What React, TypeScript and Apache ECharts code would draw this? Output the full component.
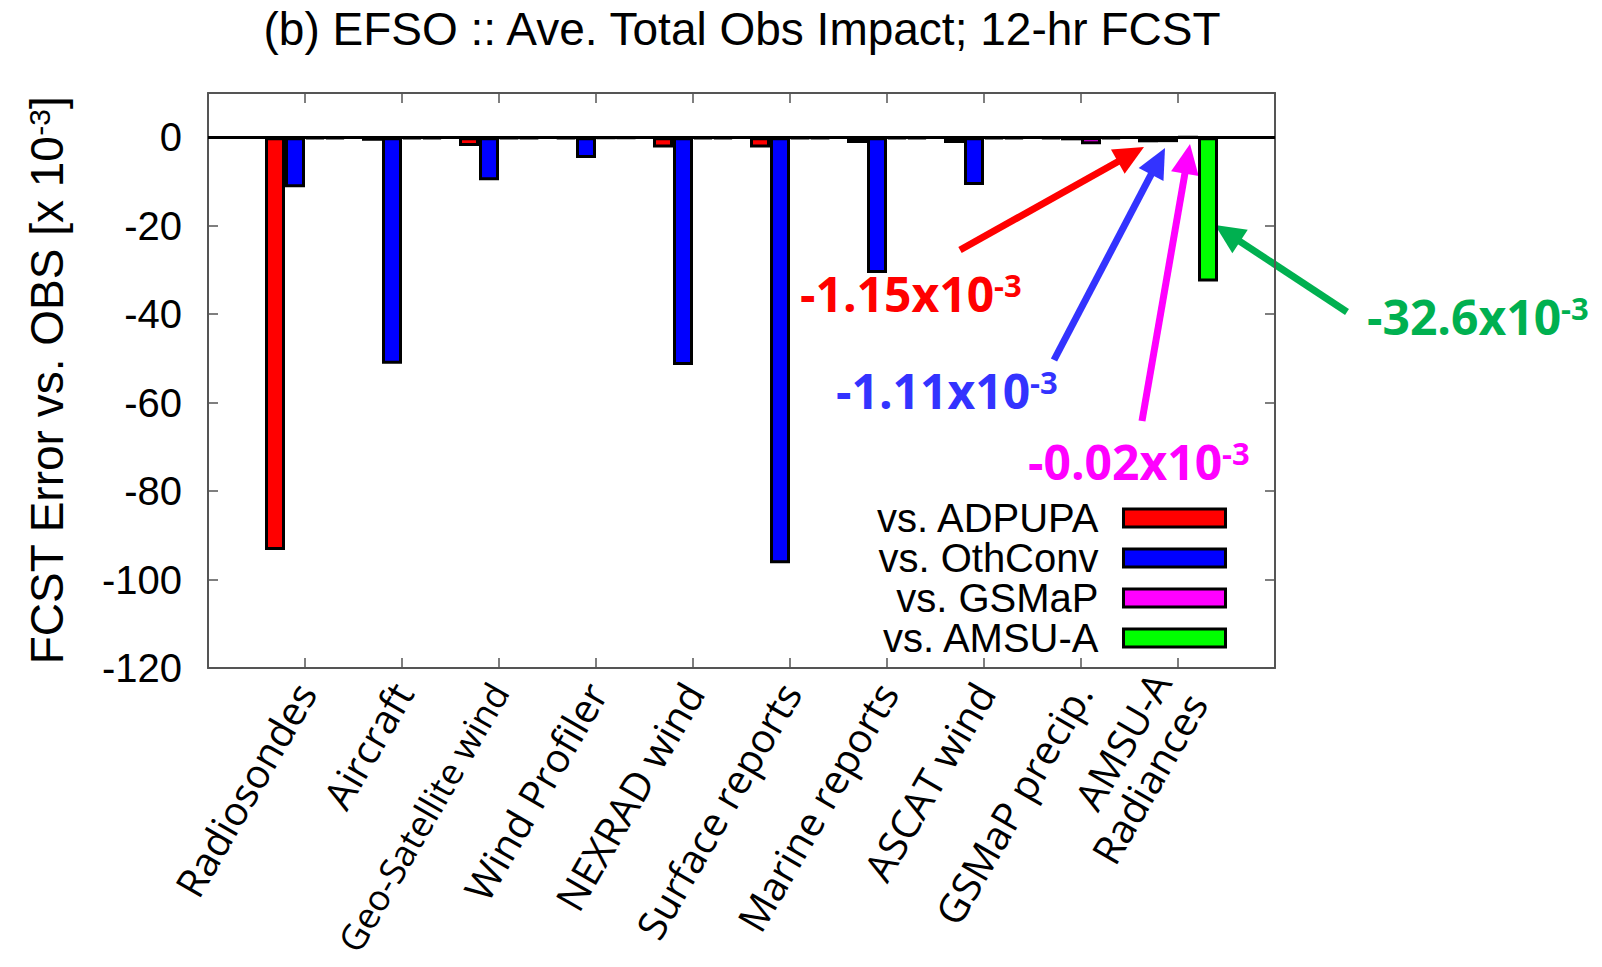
import React, { useEffect, useRef } from 'react';
import * as echarts from 'echarts';

const categories = [
  'Radiosondes',
  'Aircraft',
  'Geo-Satellite wind',
  'Wind Profiler',
  'NEXRAD wind',
  'Surface reports',
  'Marine reports',
  'ASCAT wind',
  'GSMaP precip.',
  'AMSU-A\nRadiances',
];
const seriesNames = ['vs. ADPUPA', 'vs. OthConv', 'vs. GSMaP', 'vs. AMSU-A'];
const seriesColors = ['#ff0000', '#0000ff', '#ff00ff', '#00ff00'];
const adpupa = [-93.3, -0.8, -2.0, -0.3, -2.3, -2.3, -1.3, -1.3, -0.4, -1.15];
const othconv = [-11.3, -51.2, -9.7, -4.7, -51.5, -96.3, -30.7, -10.8, -0.7, -1.11];
const gsmap = [-0.4, -0.4, -0.3, -0.2, -0.4, -0.3, -0.4, -0.4, -1.6, -0.02];
const amsua = [-0.4, -0.4, -0.3, -0.2, -0.4, -0.3, -0.4, -0.4, -0.4, -32.6];
const yMin = -120;
const yMax = 10;
const yInterval = 20;
const longLabels = ['Geo-Satellite wind'];

const annotations = [
  { main: '-1.15x10', sup: '-3', color: '#ff0000', x: 800, y: 269 },
  { main: '-1.11x10', sup: '-3', color: '#3333ff', x: 836, y: 366 },
  { main: '-0.02x10', sup: '-3', color: '#ff00ff', x: 1028, y: 437 },
  { main: '-32.6x10', sup: '-3', color: '#00b050', x: 1367, y: 292 },
];
const arrows = [
  { from: [960, 250], to: [1144, 147], color: '#ff0000' },
  { from: [1054, 360], to: [1165, 148], color: '#3333ff' },
  { from: [1142, 421], to: [1190, 144], color: '#ff00ff' },
  { from: [1347, 312], to: [1215, 225], color: '#00b050' },
];

const axisColor = '#555';
const padCats = ['', ...categories, ''];
const pad = (arr: number[]) => ['-', ...arr, '-'];

function arrowElements(a: { from: number[]; to: number[]; color: string }) {
  const [x1, y1] = a.from;
  const [x2, y2] = a.to;
  const dx = x2 - x1;
  const dy = y2 - y1;
  const L = Math.hypot(dx, dy);
  const ux = dx / L;
  const uy = dy / L;
  const px = -uy;
  const py = ux;
  const headLen = 30;
  const headW = 28;
  const bx = x2 - ux * headLen;
  const by = y2 - uy * headLen;
  return [
    {
      type: 'line',
      shape: { x1, y1, x2: bx + ux * 3, y2: by + uy * 3 },
      style: { stroke: a.color, lineWidth: 7 },
      silent: true,
    },
    {
      type: 'polygon',
      shape: {
        points: [
          [x2, y2],
          [bx + (px * headW) / 2, by + (py * headW) / 2],
          [bx - (px * headW) / 2, by - (py * headW) / 2],
        ],
      },
      style: { fill: a.color },
      silent: true,
    },
  ];
}

export default function App() {
  const ref = useRef<HTMLDivElement>(null);
  useEffect(() => {
    if (!ref.current) return;
    const chart = echarts.init(ref.current, null, { renderer: 'svg' });
    const dataSets = [adpupa, othconv, gsmap, amsua];
    const tickInterval = (index: number) => index > 0 && index < padCats.length - 1;

    const series: any[] = dataSets.map((d, i) => ({
      name: seriesNames[i],
      type: 'bar',
      data: pad(d),
      barWidth: 20,
      barGap: '0%',
      itemStyle: { color: seriesColors[i], borderColor: '#000', borderWidth: 3 },
      emphasis: { disabled: true },
      ...(i === 0
        ? {
            markLine: {
              silent: true,
              symbol: ['none', 'none'],
              label: { show: false },
              lineStyle: { color: '#000', width: 3, type: 'solid' },
              data: [{ yAxis: 0 }],
            },
          }
        : {}),
    }));

    const graphicElements: any[] = [];
    arrows.forEach((a) => graphicElements.push(...arrowElements(a)));
    annotations.forEach((t) =>
      graphicElements.push({
        type: 'text',
        x: t.x,
        y: t.y,
        silent: true,
        style: {
          text: `{a|${t.main}}{b|${t.sup}}`,
          fill: t.color,
          verticalAlign: 'top',
          align: 'left',
          rich: {
            a: { fontSize: 48, fontWeight: 'bold', fontFamily: 'Open Sans', lineHeight: 48, fill: t.color },
            b: {
              fontSize: 31,
              fontWeight: 'bold',
              fontFamily: 'Open Sans',
              lineHeight: 28,
              verticalAlign: 'top',
              fill: t.color,
            },
          },
        },
      })
    );

    chart.setOption({
      animation: false,
      backgroundColor: '#fff',
      title: {
        text: '(b) EFSO :: Ave. Total Obs Impact; 12-hr FCST',
        left: 742,
        top: 6,
        textAlign: 'center',
        padding: 0,
        textStyle: { fontSize: 46, fontWeight: 'normal', fontFamily: 'Liberation Sans', color: '#000' },
      },
      grid: { left: 208, right: 327, top: 93, bottom: 299, containLabel: false, outerBoundsMode: 'none' },
      legend: {
        data: seriesNames,
        orient: 'vertical',
        right: 375,
        top: 498,
        align: 'right',
        icon: 'rect',
        itemWidth: 102,
        itemHeight: 18,
        itemGap: 0,
        padding: 0,
        selectedMode: false,
        itemStyle: { borderColor: '#000', borderWidth: 3 },
        textStyle: {
          fontSize: 40,
          fontFamily: 'Liberation Sans',
          color: '#000',
          lineHeight: 40,
          padding: [0, 20, 0, 0],
        },
      },
      xAxis: [
        {
          type: 'category',
          data: padCats,
          position: 'bottom',
          boundaryGap: false,
          axisLine: { onZero: false, lineStyle: { color: axisColor, width: 2 } },
          axisTick: { inside: true, length: 10, interval: tickInterval, lineStyle: { color: axisColor, width: 1.5 } },
          axisLabel: {
            interval: 0,
            rotate: 60,
            margin: 18,
            fontSize: 40,
            fontFamily: 'Open Sans',
            color: '#000',
            lineHeight: 42,
            formatter: (v: string) => (longLabels.includes(v) ? `{s|${v}}` : v),
            rich: {
              s: { fontSize: 36, fontFamily: 'Open Sans', color: '#000', lineHeight: 40 },
            },
          },
          splitLine: { show: false },
        },
        {
          type: 'category',
          data: padCats,
          position: 'top',
          boundaryGap: false,
          axisLine: { onZero: false, lineStyle: { color: axisColor, width: 2 } },
          axisTick: { inside: true, length: 10, interval: tickInterval, lineStyle: { color: axisColor, width: 1.5 } },
          axisLabel: { show: false },
          splitLine: { show: false },
        },
      ],
      yAxis: [
        {
          type: 'value',
          min: yMin,
          max: yMax,
          interval: yInterval,
          position: 'left',
          name: '{a|FCST Error vs. OBS [x 10}{b|-3}{a|]}',
          nameLocation: 'middle',
          nameRotate: 90,
          nameGap: 138,
          nameTextStyle: {
            color: '#000',
            fontFamily: 'Liberation Sans',
            fontSize: 46,
            rich: {
              a: { fontSize: 46, fontFamily: 'Liberation Sans', color: '#000', lineHeight: 46 },
              b: { fontSize: 30, fontFamily: 'Liberation Sans', color: '#000', lineHeight: 26, verticalAlign: 'top' },
            },
          },
          axisLine: { show: true, onZero: false, lineStyle: { color: axisColor, width: 2 } },
          axisTick: { show: true, inside: true, length: 10, lineStyle: { color: axisColor, width: 1.5 } },
          axisLabel: {
            fontSize: 40,
            fontFamily: 'Liberation Sans',
            color: '#000',
            margin: 26,
            showMaxLabel: false,
          },
          splitLine: { show: false },
        },
        {
          type: 'value',
          min: yMin,
          max: yMax,
          interval: yInterval,
          position: 'right',
          axisLine: { show: true, onZero: false, lineStyle: { color: axisColor, width: 2 } },
          axisTick: { show: true, inside: true, length: 10, lineStyle: { color: axisColor, width: 1.5 } },
          axisLabel: { show: false },
          splitLine: { show: false },
        },
      ],
      series,
      graphic: { elements: graphicElements },
    });
    return () => chart.dispose();
  }, []);
  return (
    <div
      ref={ref}
      style={{ position: 'fixed', left: 0, top: 0, width: 1602, height: 967, background: '#fff' }}
    />
  );
}
